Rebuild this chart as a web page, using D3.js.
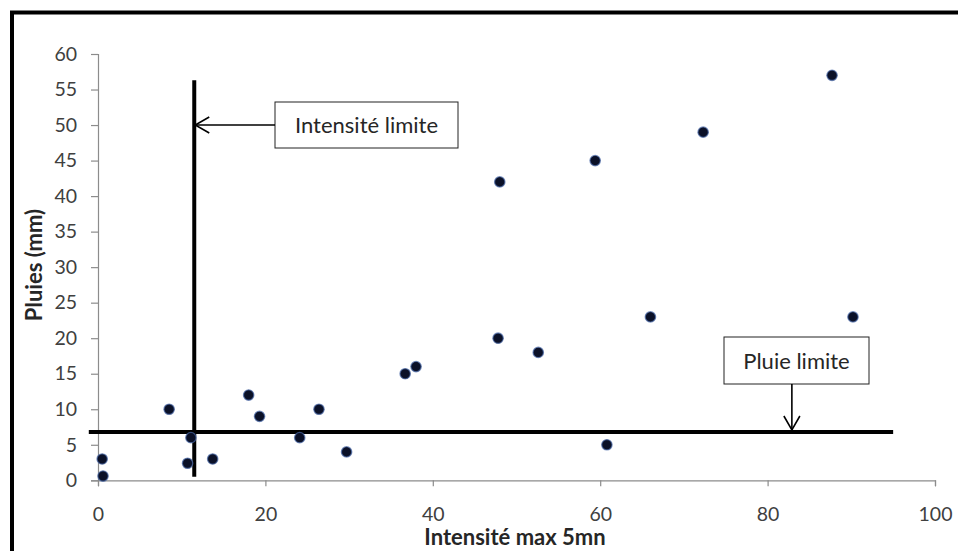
<!DOCTYPE html>
<html>
<head>
<meta charset="utf-8">
<script src="https://cdn.jsdelivr.net/npm/d3@7"></script>
<style>
  html, body { margin: 0; padding: 0; background: #fff; }
  svg { display: block; }
  text { font-family: Lato, "Open Sans", sans-serif; }
</style>
</head>
<body>
<svg id="chart" width="958" height="551"></svg>
<script>
// Data
const intensite = [0.5, 0.6, 8.5, 11.1, 10.7, 13.7, 18, 19.3, 24.1, 26.4, 29.7, 36.7, 38, 47.8, 52.6, 66, 90.2, 60.8, 48, 59.4, 72.3, 87.7];
const pluies    = [3, 0.6, 10, 6, 2.4, 3, 12, 9, 6, 10, 4, 15, 16, 20, 18, 23, 23, 5, 42, 45, 49, 57];
const xTicks = [0, 20, 40, 60, 80, 100];
const yTicks = [0, 5, 10, 15, 20, 25, 30, 35, 40, 45, 50, 55, 60];
const intensiteLimite = 11.5;   // vertical line
const intensiteLimiteRange = [0.5, 56.3];
const pluieLimite = 6.8;        // horizontal line
const pluieLimiteRange = [-1.1, 95];
const labelIntensite = "Intensité limite";
const labelPluie = "Pluie limite";
const annotIntensiteY = 50;     // arrow target on vertical line
const annotPluieX = 82.9;       // arrow target on horizontal line
const xTitle = "Intensité max 5mn";
const yTitle = "Pluies (mm)";

const svg = d3.select("#chart");

// outer frame
svg.append("rect").attr("x", 12).attr("y", 12.5).attr("width", 1000).attr("height", 600)
  .attr("fill", "none").attr("stroke", "#000").attr("stroke-width", 4);

const x = d3.scaleLinear().domain([0, 100]).range([98, 935]);
const y = d3.scaleLinear().domain([0, 60]).range([480.3, 54]);

const axisColor = "#8c8c8c";
const labelColor = "#404040";

// x axis
const gx = svg.append("g").attr("transform", `translate(0,${y(0)})`)
  .call(d3.axisBottom(x).tickValues(xTicks).tickSize(6).tickPadding(21).tickFormat(d3.format("d")));
gx.select(".domain").attr("stroke", axisColor).attr("stroke-width", 1.2);
gx.selectAll(".tick line").attr("stroke", axisColor).attr("stroke-width", 1.2);
gx.selectAll(".tick text").attr("fill", labelColor).attr("font-size", 19.5).style("font-family", "Lato, sans-serif");

// y axis
const gy = svg.append("g").attr("transform", `translate(${x(0)},0)`)
  .call(d3.axisLeft(y).tickValues(yTicks).tickSize(7).tickPadding(14).tickFormat(d3.format("d")));
gy.select(".domain").attr("stroke", axisColor).attr("stroke-width", 1.2);
gy.selectAll(".tick line").attr("stroke", axisColor).attr("stroke-width", 1.2);
gy.selectAll(".tick text").attr("fill", labelColor).attr("font-size", 19.5).style("font-family", "Lato, sans-serif");

// axis titles
svg.append("text").attr("x", 515).attr("y", 545).attr("text-anchor", "middle")
  .attr("font-size", 22).attr("font-weight", "bold").attr("fill", "#262626").text(xTitle);
svg.append("text").attr("transform", `translate(42,265) rotate(-90)`).attr("text-anchor", "middle")
  .attr("font-size", 22).attr("font-weight", "bold").attr("fill", "#262626").text(yTitle);

// limit lines
svg.append("line")
  .attr("x1", x(intensiteLimite)).attr("x2", x(intensiteLimite))
  .attr("y1", y(intensiteLimiteRange[0])).attr("y2", y(intensiteLimiteRange[1]))
  .attr("stroke", "#000").attr("stroke-width", 4);
svg.append("line")
  .attr("x1", x(pluieLimiteRange[0])).attr("x2", x(pluieLimiteRange[1]))
  .attr("y1", y(pluieLimite)).attr("y2", y(pluieLimite))
  .attr("stroke", "#000").attr("stroke-width", 4);

// points
svg.append("g").selectAll("circle").data(intensite.map((d, i) => [d, pluies[i]]))
  .join("circle")
  .attr("cx", d => x(d[0])).attr("cy", d => y(d[1])).attr("r", 5.2)
  .attr("fill", "#0b1128").attr("stroke", "#4a6aa8").attr("stroke-width", 1.3).attr("stroke-opacity", 0.7);

// annotation 1: Intensité limite
const b1 = {x: 275, y: 102, w: 183, h: 46};
svg.append("rect").attr("x", b1.x).attr("y", b1.y).attr("width", b1.w).attr("height", b1.h)
  .attr("fill", "#fff").attr("stroke", "#222").attr("stroke-width", 1);
svg.append("text").attr("x", b1.x + b1.w / 2).attr("y", b1.y + b1.h / 2 + 8).attr("text-anchor", "middle")
  .attr("font-size", 22).attr("fill", "#262626").text(labelIntensite);
const ax1 = x(intensiteLimite) + 1, ay1 = y(annotIntensiteY);
svg.append("line").attr("x1", b1.x).attr("y1", ay1).attr("x2", ax1).attr("y2", ay1)
  .attr("stroke", "#000").attr("stroke-width", 1.6);
svg.append("path").attr("d", `M${ax1 + 14},${ay1 - 8} L${ax1},${ay1} L${ax1 + 14},${ay1 + 8}`)
  .attr("fill", "none").attr("stroke", "#000").attr("stroke-width", 1.6);

// annotation 2: Pluie limite
const b2 = {x: 724, y: 337, w: 145, h: 47};
svg.append("rect").attr("x", b2.x).attr("y", b2.y).attr("width", b2.w).attr("height", b2.h)
  .attr("fill", "#fff").attr("stroke", "#222").attr("stroke-width", 1);
svg.append("text").attr("x", b2.x + b2.w / 2).attr("y", b2.y + b2.h / 2 + 8).attr("text-anchor", "middle")
  .attr("font-size", 22).attr("fill", "#262626").text(labelPluie);
const ax2 = x(annotPluieX), ay2 = y(pluieLimite) - 2;
svg.append("line").attr("x1", ax2).attr("y1", b2.y + b2.h).attr("x2", ax2).attr("y2", ay2)
  .attr("stroke", "#000").attr("stroke-width", 1.6);
svg.append("path").attr("d", `M${ax2 - 8},${ay2 - 14} L${ax2},${ay2} L${ax2 + 8},${ay2 - 14}`)
  .attr("fill", "none").attr("stroke", "#000").attr("stroke-width", 1.6);
</script>
</body>
</html>
